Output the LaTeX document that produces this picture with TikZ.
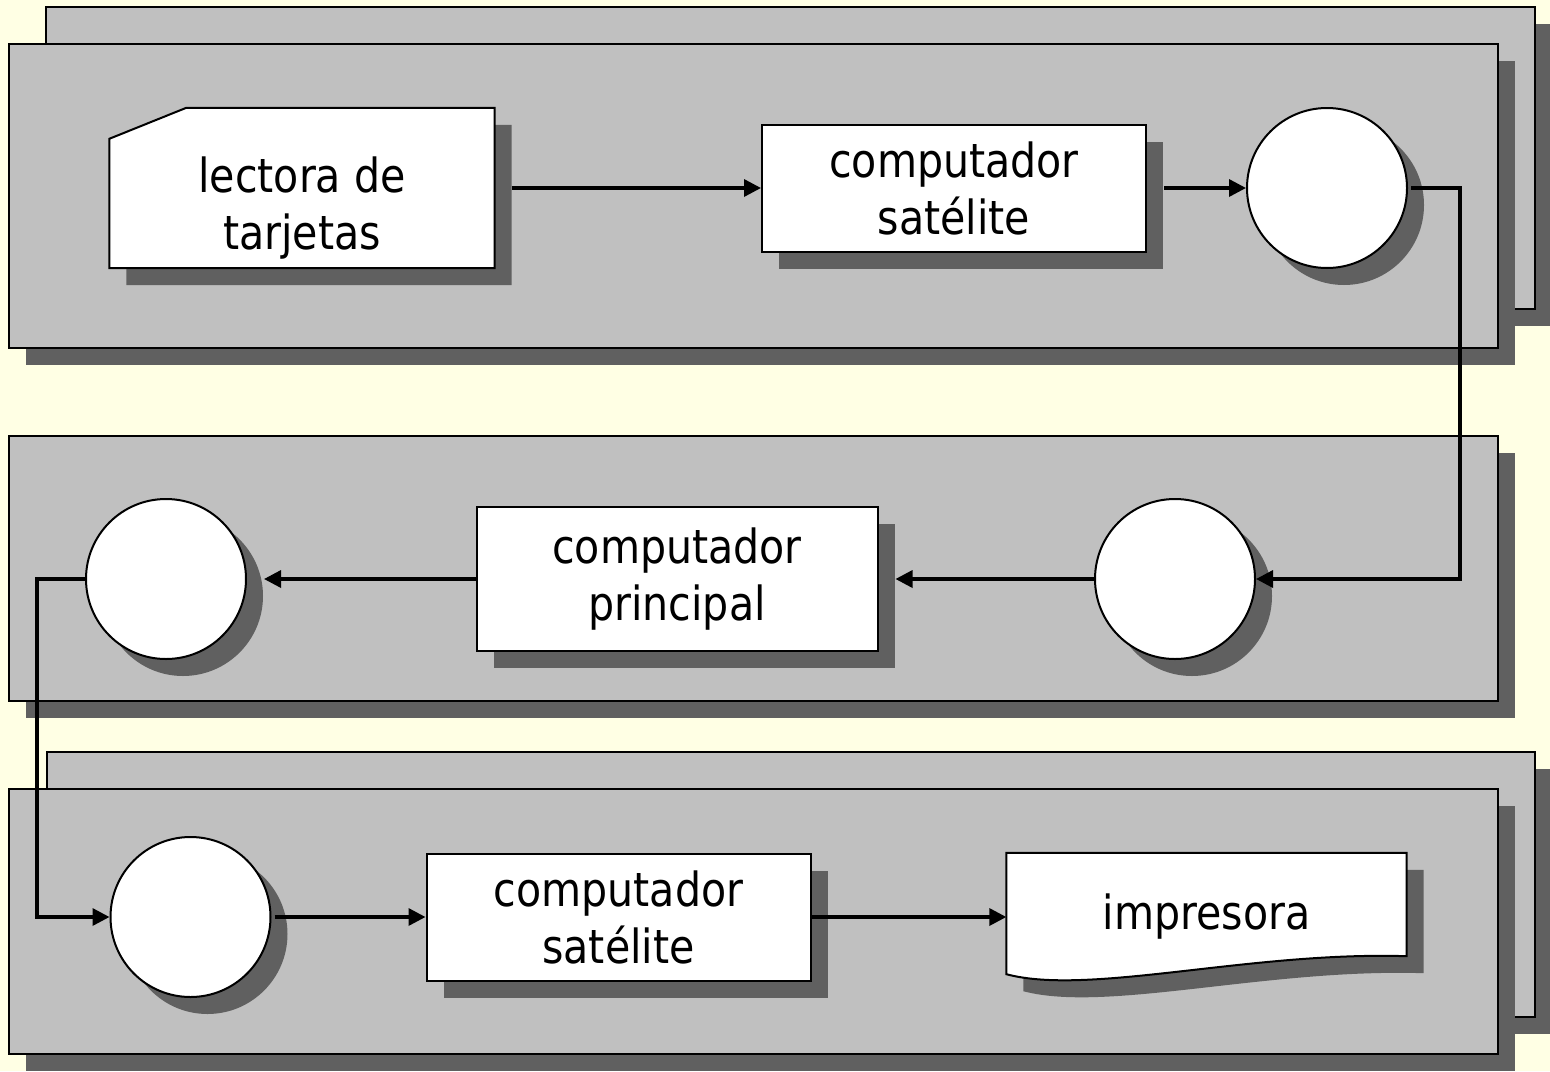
\documentclass[tikz,border=0pt]{standalone}
\usepackage{fontspec}
\setmainfont{DejaVu Sans}[FakeStretch=0.875]
\usetikzlibrary{arrows.meta,positioning,shadows,backgrounds}

\definecolor{paper}{RGB}{255,255,228}
\definecolor{panelgray}{RGB}{192,192,192}
\definecolor{shadowgray}{RGB}{96,96,96}

\tikzset{
  castshadow/.style={drop shadow={shadow xshift=17pt,shadow yshift=-17pt,fill=shadowgray,opacity=1}},
  panel/.style={draw,line width=2pt,fill=panelgray,castshadow},
  label text/.style={align=center,font=\fontsize{47pt}{57pt}\selectfont},
  proc/.style={rectangle,draw,line width=2pt,fill=white,castshadow,inner sep=0pt,
    minimum width=384pt,minimum height=127pt,label text},
  disk/.style={circle,draw,line width=2pt,fill=white,castshadow,inner sep=0pt,minimum size=160pt},
  io/.style={rectangle,inner sep=0pt,label text},
  outline/.style={draw,line width=2pt,fill=white,castshadow},
  flow/.style={line width=3.4pt,-{Triangle[length=17pt,width=17pt]}}
}

\begin{document}
\begin{tikzpicture}[x=1pt,y=-1pt,on grid]
\useasboundingbox (0,0) rectangle (1550,1071);

% first row: card reader, satellite, disk
\node[io,minimum width=385pt,minimum height=160pt] (lector) at (302,188) {\rule{0pt}{76pt}lectora de\\tarjetas};
\node[proc] (sat1) [right=652pt of lector] {computador\\satélite};
\node[disk] (disk1) [right=373pt of sat1] {};

% second row: runs right to left
\node[disk] (disk2) at (1175,579) {};
\node[proc,minimum width=401pt,minimum height=144pt] (main) [left=498pt of disk2] {computador\\principal};
\node[disk] (disk3) [left=511pt of main] {};

% third row: disk, satellite, printer
\node[disk] (disk4) at (190.5,917) {};
\node[proc] (sat2) [right=428pt of disk4] {computador\\satélite};
\node[io,minimum width=400pt,minimum height=128pt] (printer) [right=588pt of sat2] {\raisebox{6pt}{impresora}};

\coordinate (railR) at (1460,380);
\coordinate (railL) at (37,750);

\begin{scope}[on background layer]
  \fill[paper] (0,0) rectangle (1550,1071);
  % stacked panels
  \draw[panel] (46,7) rectangle (1535,309);
  \draw[panel] (9,44) rectangle (1498,348);
  \draw[panel] (9,436) rectangle (1498,701);
  \draw[panel] (47,752) rectangle (1535,1017);
  \draw[panel] (9,789) rectangle (1498,1054);
  % punched card and document outlines
  \draw[outline] (lector.south west) -- ([yshift=-31pt]lector.north west)
    -- ([xshift=77pt]lector.north west) -- (lector.north east)
    -- (lector.south east) -- cycle;
  \draw[outline] (printer.north west) -- (printer.north east)
    -- ([yshift=25pt]printer.south east)
    .. controls +(-157,-5) and +(83,22) .. ([yshift=7pt]printer.south west) -- cycle;
\end{scope}

\draw[flow] ([xshift=17pt]lector.east) -- (sat1.west);
\draw[flow] ([xshift=17pt]sat1.east) -- (disk1.west);
\draw[flow] ([xshift=3pt]disk1.east) -| (railR) |- (disk2.east);
\draw[flow] (disk2.west) -- ([xshift=17pt]main.east);
\draw[flow] (main.west) -- ([xshift=17pt]disk3.east);
\draw[flow] (disk3.west) -| (railL) |- (disk4.west);
\draw[flow] ([xshift=3pt]disk4.east) -- (sat2.west);
\draw[flow] (sat2.east) -- (printer.west);
\end{tikzpicture}
\end{document}
